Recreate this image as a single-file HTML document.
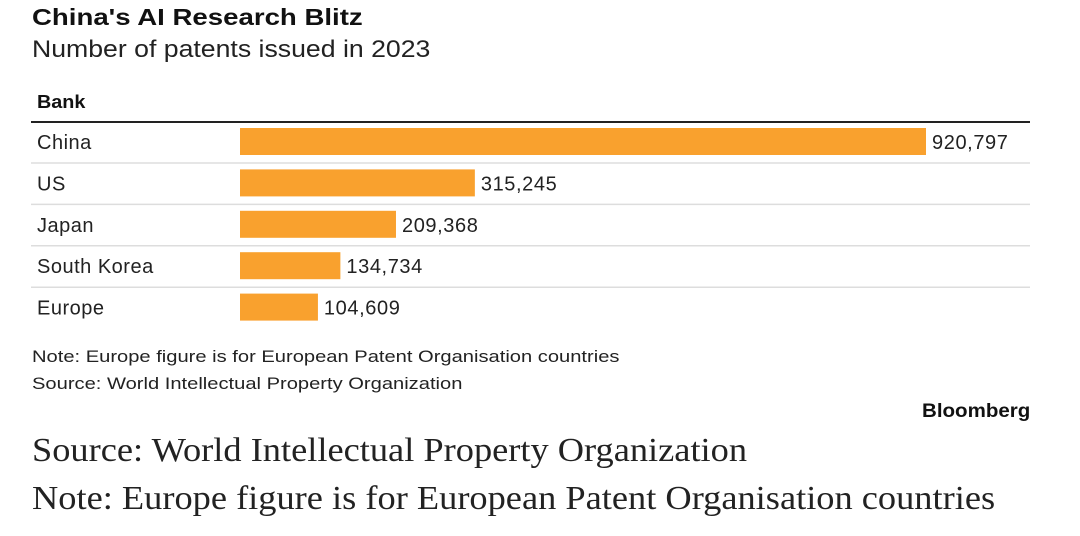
<!DOCTYPE html>
<html><head><meta charset="utf-8"><style>
body{margin:0;width:1080px;height:536px;background:#fff;overflow:hidden;position:relative;font-family:"Liberation Sans",Arial,sans-serif;color:#111}
.t{position:absolute;white-space:nowrap;transform-origin:0 0}
</style></head><body>
<div class="t" style="left:32px;top:4px;font-size:23px;font-weight:bold;transform:scaleX(1.2)">China's AI Research Blitz</div>
<div class="t" style="left:32px;top:36px;font-size:24px;color:#222;transform:scaleX(1.11)">Number of patents issued in 2023</div>
<div class="t" style="left:37px;top:92px;font-size:18px;font-weight:bold;transform:scaleX(1.1)">Bank</div>
<svg id="chart" width="1080" height="340" style="position:absolute;left:0;top:0"></svg>
<div class="t" style="left:32px;top:348px;font-size:16.5px;color:#222;transform:scaleX(1.22)">Note: Europe figure is for European Patent Organisation countries</div>
<div class="t" style="left:32px;top:375px;font-size:16.5px;color:#222;transform:scaleX(1.22)">Source: World Intellectual Property Organization</div>
<div class="t" style="left:922px;top:401px;font-size:19px;font-weight:bold;transform:scaleX(1.08)">Bloomberg</div>
<div class="t" style="left:32px;top:432px;font-size:34px;font-family:'Liberation Serif',serif;color:#222;transform:scaleX(1.07)">Source: World Intellectual Property Organization</div>
<div class="t" style="left:32px;top:480px;font-size:34px;font-family:'Liberation Serif',serif;color:#222;transform:scaleX(1.07)">Note: Europe figure is for European Patent Organisation countries</div>
<script>
const categories=["China","US","Japan","South Korea","Europe"];
const values=[920797,315245,209368,134734,104609];
const svg=document.getElementById('chart');
const NS='http://www.w3.org/2000/svg';
const x0=240,x1=926,vmax=920797;
const xScale=v=>x0+(x1-x0)*v/vmax;
const rowTop=i=>122+i*41.4;
function mk(tag,attrs){const e=document.createElementNS(NS,tag);for(const k in attrs)e.setAttribute(k,attrs[k]);svg.appendChild(e);return e;}
const hl=mk('line',{x1:31,x2:1030,y1:122,y2:122,stroke:'#222','stroke-width':2});


categories.forEach((c,i)=>{
  const t=rowTop(i);
  if(i<categories.length-1){
    const l=mk('line',{x1:31,x2:1030,y1:t+41,y2:t+41,stroke:'#ddd','stroke-width':1.5});
    
    
  }
  const lab=mk('text',{x:37,y:t+27,'font-size':20,fill:'#222','letter-spacing':0.5});
  lab.textContent=c;
  
  
  const b=mk('rect',{x:x0,y:t+6,width:xScale(values[i])-x0,height:27,fill:'#f9a12e'});
  
  
  const v=mk('text',{x:xScale(values[i])+6,y:t+27,'font-size':20,fill:'#222','letter-spacing':0.6});
  v.textContent=values[i].toLocaleString('en-US');
  
  
});
</script>
</body></html>
